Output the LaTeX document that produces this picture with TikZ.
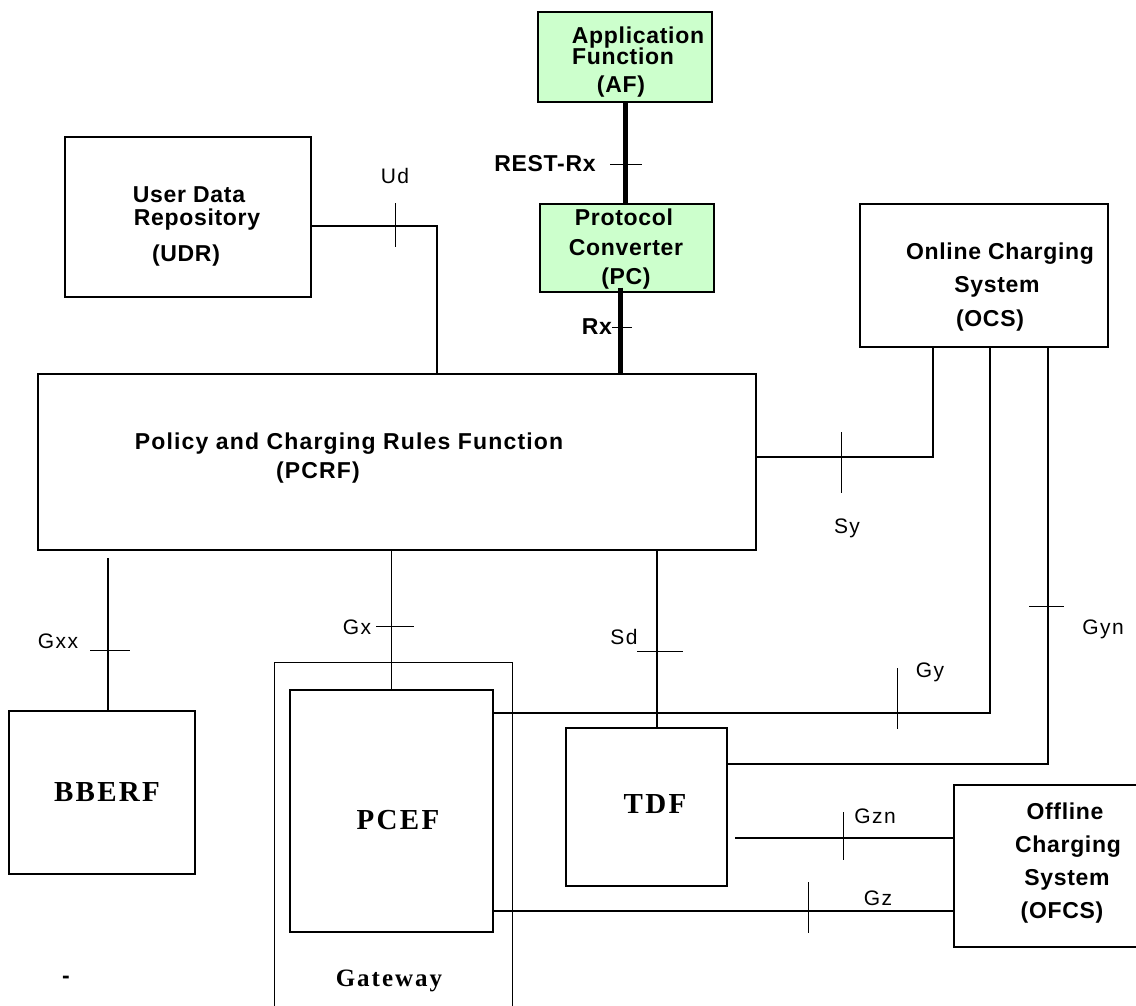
\documentclass[tikz,border=0pt]{standalone}
\usepackage{fontspec}
\setmainfont{Liberation Sans}
\newfontfamily\boxsans[LetterSpace=3]{Liberation Sans}
\newfontfamily\pcrfsans[LetterSpace=5]{Liberation Sans}
\newfontfamily\labsans[LetterSpace=7]{Liberation Sans}
\newfontfamily\boxserif[LetterSpace=8]{Liberation Serif}
\definecolor{afgreen}{HTML}{CCFFCC}
\begin{document}
\begin{tikzpicture}[x=1pt,y=-1pt,
  box/.style={draw, line width=1.4pt, inner sep=0pt, rectangle},
  greenbox/.style={box, fill=afgreen},
  conn/.style={line width=1.4pt},
  fatconn/.style={line width=5pt},
  tick/.style={line width=0.9pt},
  bt/.style={anchor=base, inner sep=0pt, font=\fontsize{23}{26}\selectfont\boxsans\bfseries},
  pt/.style={anchor=base, inner sep=0pt, font=\fontsize{23}{26}\selectfont\pcrfsans\bfseries},
  it/.style={anchor=base, inner sep=0pt, font=\fontsize{21}{24}\selectfont\labsans},
  st/.style={anchor=base, inner sep=0pt, font=\fontsize{29}{32}\selectfont\boxserif\bfseries},
]
\useasboundingbox (0,0) rectangle (1136,1005);

% boxes
\node[greenbox, minimum width=174pt, minimum height=90pt] (af) at (625,57) {};
\node[greenbox, minimum width=174pt, minimum height=88pt] (pc) at (627,248) {};
\node[box, minimum width=246pt, minimum height=160pt] (udr) at (188,217) {};
\node[box, minimum width=718pt, minimum height=176pt] (pcrf) at (397,462) {};
\node[box, minimum width=248pt, minimum height=143pt] (ocs) at (984,275.5) {};
\node[box, minimum width=186pt, minimum height=163pt] (bberf) at (102,792.5) {};
\node[box, line width=1pt, minimum width=238pt, minimum height=360pt] (gw) at (393,842) {};
\node[box, fill=white, minimum width=203pt, minimum height=242pt] (pcef) at (391.5,811) {};
\node[box, minimum width=161pt, minimum height=158pt] (tdf) at (646.5,807) {};
\node[box, minimum width=192pt, minimum height=162pt] (ofcs) at (1050,866) {};

% box texts
\node[bt] (afl1) at (638,43) {Application};
\node[bt] (afl2) at (623,64) {Function};
\node[bt] (afl3) at (621,92) {(AF)};
\node[bt] (pcl1) at (624,225) {Protocol};
\node[bt] (pcl2) at (626,255) {Converter};
\node[bt] (pcl3) at (626,284) {(PC)};
\node[bt] (udrl1) at (189,202) {User Data};
\node[bt] (udrl2) at (197,225) {Repository};
\node[bt] (udrl3) at (186,261) {(UDR)};
\node[pt] (pcrfl1) at (349,449) {Policy and Charging Rules Function};
\node[pt] (pcrfl2) at (318,478) {(PCRF)};
\node[bt] (ocsl1) at (1000,259) {Online Charging};
\node[bt] (ocsl2) at (997,292) {System};
\node[bt] (ocsl3) at (990,326) {(OCS)};
\node[bt] (ofcsl1) at (1065,819) {Offline};
\node[bt] (ofcsl2) at (1068,852) {Charging};
\node[bt] (ofcsl3) at (1067,885) {System};
\node[bt] (ofcsl4) at (1062,918) {(OFCS)};
\node[st] (bberfl) at (107,801) {BBERF};
\node[st] (pcefl) at (398,829) {PCEF};
\node[st] (tdfl) at (655,813) {TDF};
\node[st, font=\fontsize{25}{28}\selectfont\boxserif\bfseries] (gwl) at (389,986) {Gateway};
\node[bt] (dash) at (66,983) {-};

% connectors
\draw[fatconn] (af.south) -- (af.south |- pc.north);
\draw[fatconn] ([xshift=-7pt,yshift=5pt]pc.south) -- ([xshift=-7pt]pc.south |- pcrf.north);

\coordinate (udbend) at (437,226);
\draw[conn] (udr.east |- udbend) -- (udbend) -- (udbend |- pcrf.north);
\coordinate (sybend) at (933,457);
\draw[conn] (pcrf.east |- sybend) -- (sybend) -- (sybend |- ocs.south);
\coordinate (gybend) at (990,713);
\draw[conn] (gybend |- ocs.south) -- (gybend) -- (gybend -| pcef.east);
\coordinate (gynbend) at (1048,764);
\draw[conn] (gynbend |- ocs.south) -- (gynbend) -- (gynbend -| tdf.east);
\coordinate (gxxtop) at (108,558);
\draw[conn] (gxxtop) -- (gxxtop |- bberf.north);
\draw[conn] (pcef.north |- pcrf.south) -- (pcef.north);
\coordinate (sdx) at (657,600);
\draw[conn] (sdx |- pcrf.south) -- (sdx |- tdf.north);
\coordinate (gznstart) at (735,838);
\draw[conn] (gznstart) -- (gznstart -| ofcs.west);
\coordinate (gzy) at (500,911);
\draw[conn] (pcef.east |- gzy) -- (gzy -| ofcs.west);

% interface ticks
\draw[tick] (610,164) -- (642,164);
\draw[tick] (612,327) -- (632,327);
\draw[tick] (395,203) -- (395,247);
\draw[tick] (841,432) -- (841,493);
\draw[tick] (897,668) -- (897,729);
\draw[tick] (1029,606) -- (1064,606);
\draw[tick] (90,650) -- (130,650);
\draw[tick] (376,626) -- (414,626);
\draw[tick] (637,651) -- (683,651);
\draw[tick] (843,812) -- (843,860);
\draw[tick] (808,882) -- (808,933);

% interface labels
\node[bt] (restrx) at (545,171) {REST-Rx};
\node[bt] (rxl) at (597,334) {Rx};
\node[it] (udl) at (395,183) {Ud};
\node[it] (syl) at (847,533) {Sy};
\node[it] (gynl) at (1103,634) {Gyn};
\node[it] (gyl) at (930,677) {Gy};
\node[it] (gxxl) at (58,648) {Gxx};
\node[it] (gxl) at (357,634) {Gx};
\node[it] (sdl) at (624,644) {Sd};
\node[it] (gznl) at (875,823) {Gzn};
\node[it] (gzl) at (878,905) {Gz};
\end{tikzpicture}
\end{document}
